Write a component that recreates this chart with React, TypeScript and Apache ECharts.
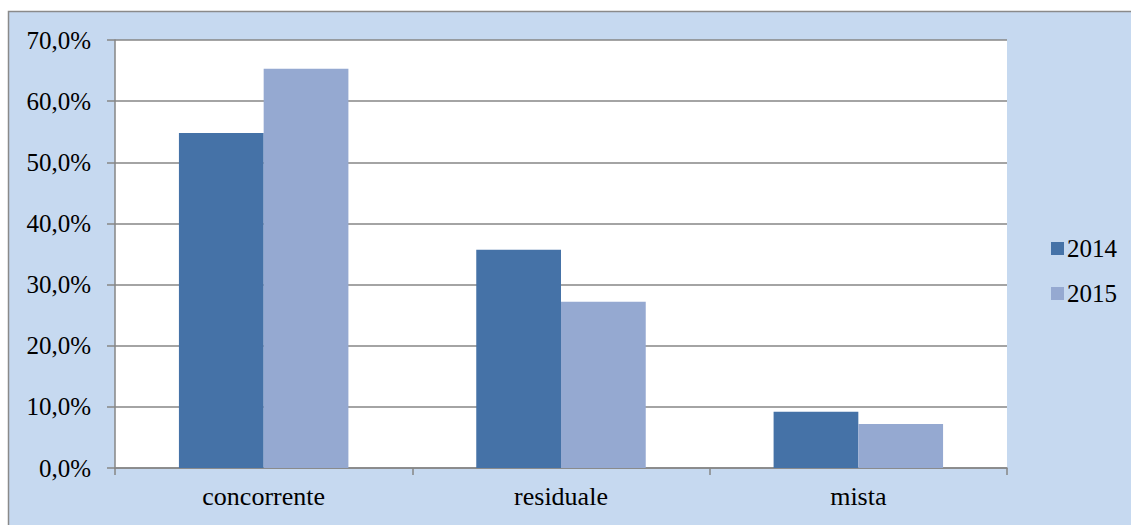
import React, { useEffect, useRef } from "react";
import * as echarts from "echarts";

const categories = ["concorrente", "residuale", "mista"];
const series2014 = [54.8, 35.7, 9.2];
const series2015 = [65.3, 27.2, 7.2];
const seriesNames = ["2014", "2015"];
const yTicks = { min: 0, max: 70, interval: 10 };

const FONT = "Liberation Serif";

export default function App() {
  const ref = useRef<HTMLDivElement>(null);
  useEffect(() => {
    if (!ref.current) return;
    const chart = echarts.init(ref.current, undefined, { renderer: "svg" });
    chart.setOption({
      animation: false,
      backgroundColor: "#ffffff",
      graphic: [
        {
          type: "rect",
          z: -10,
          silent: true,
          shape: { x: 8.5, y: 11.5, width: 1200, height: 600 },
          style: { fill: "#C6D9F0", stroke: "#8A8A8A", lineWidth: 1.5 },
        },
      ],
      grid: {
        left: 115,
        top: 40,
        right: 124,
        bottom: 57,
        show: true,
        backgroundColor: "#ffffff",
        borderWidth: 0,
      },
      legend: {
        orient: "vertical",
        left: 1046,
        top: 231,
        itemWidth: 13,
        itemHeight: 13,
        itemGap: 20,
        icon: "rect",
        textStyle: { fontFamily: FONT, fontSize: 25, color: "#000", lineHeight: 25, padding: [0, 0, 0, -2] },
        data: seriesNames,
      },
      xAxis: {
        type: "category",
        data: categories,
        axisLine: { lineStyle: { color: "#868686", width: 1.5 } },
        axisTick: { show: true, length: 7, lineStyle: { color: "#868686", width: 1.5 } },
        axisLabel: { fontFamily: FONT, fontSize: 26, color: "#000", margin: 15 },
      },
      yAxis: {
        type: "value",
        min: yTicks.min,
        max: yTicks.max,
        interval: yTicks.interval,
        axisLine: { show: true, lineStyle: { color: "#868686", width: 1.5 } },
        axisTick: { show: true, length: 8, lineStyle: { color: "#868686", width: 1.5 } },
        splitLine: { show: true, lineStyle: { color: "#868686", width: 1.5 } },
        axisLabel: {
          fontFamily: FONT,
          fontSize: 25,
          color: "#000",
          margin: 24,
          formatter: (v: number) => v.toFixed(1).replace(".", ",") + "%",
        },
      },
      series: [
        {
          name: seriesNames[0],
          type: "bar",
          data: series2014,
          itemStyle: { color: "#4572A7" },
          barGap: "0%",
          barCategoryGap: "43%",
        },
        {
          name: seriesNames[1],
          type: "bar",
          data: series2015,
          itemStyle: { color: "#95A9D1" },
          barGap: "0%",
          barCategoryGap: "43%",
        },
      ],
    });
    return () => chart.dispose();
  }, []);
  return (
    <div
      ref={ref}
      style={{ position: "absolute", left: 0, top: 0, width: 1131, height: 525 }}
    />
  );
}
